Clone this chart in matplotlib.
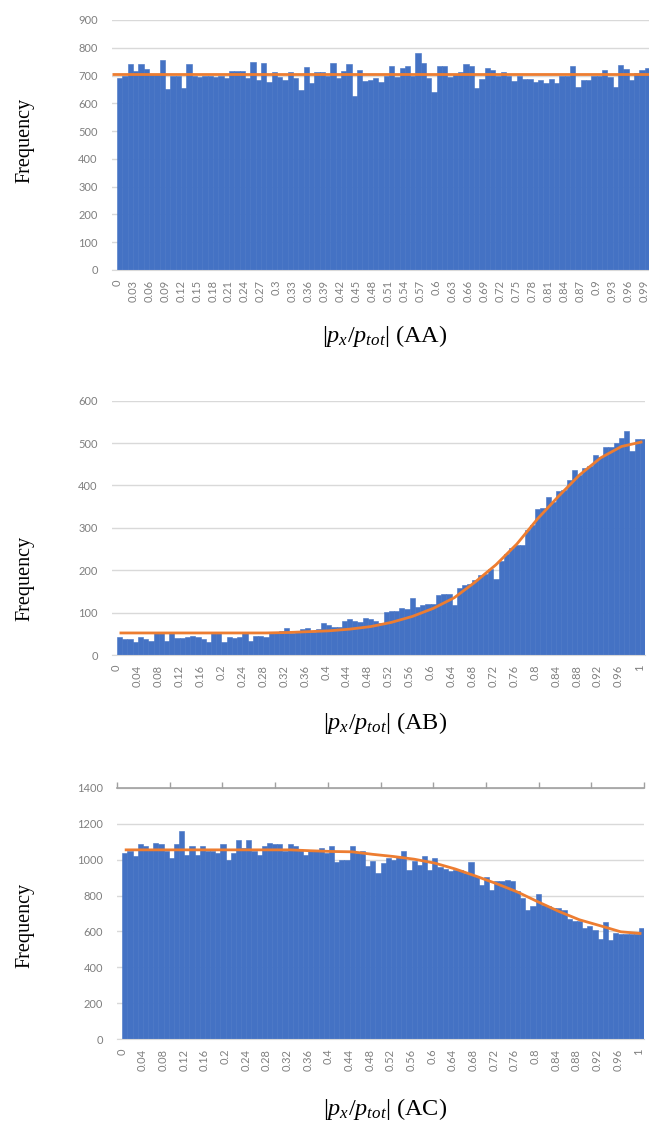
import numpy as np
import matplotlib
matplotlib.use("Agg")
import matplotlib.pyplot as plt
import matplotlib.transforms as mtransforms

plt.rcParams["mathtext.fontset"] = "custom"
plt.rcParams["mathtext.rm"] = "Liberation Serif"
plt.rcParams["mathtext.it"] = "Liberation Serif:italic"

W, H = 649, 1122

# --- data ------------------------------------------------------------------
# AA: 100 bins, 0 .. 0.99
aa_bins = np.arange(100) / 100
aa_counts = [
    690, 700, 740, 715, 740, 725, 705, 705, 755, 650,
    697, 700, 655, 740, 700, 695, 700, 700, 695, 700,
    690, 718, 718, 718, 690, 750, 685, 745, 678, 713,
    695, 685, 713, 690, 648, 730, 672, 713, 713, 700,
    745, 690, 718, 740, 628, 720, 680, 683, 693, 678,
    700, 733, 696, 726, 735, 700, 780, 744, 690, 640,
    736, 736, 696, 705, 712, 740, 733, 654, 686, 726,
    720, 698, 712, 700, 680, 698, 688, 686, 678, 683,
    672, 686, 672, 700, 700, 733, 660, 683, 683, 698,
    698, 720, 696, 660, 738, 723, 683, 708, 720, 726,
]
aa_fit_x = [-0.015, 0.995]
aa_fit_y = [705, 705]
aa_ticks = ["0", "0.03", "0.06", "0.09", "0.12", "0.15", "0.18", "0.21", "0.24",
            "0.27", "0.3", "0.33", "0.36", "0.39", "0.42", "0.45", "0.48", "0.51",
            "0.54", "0.57", "0.6", "0.63", "0.66", "0.69", "0.72", "0.75", "0.78",
            "0.81", "0.84", "0.87", "0.9", "0.93", "0.96", "0.99"]

# AB: 101 bins, 0 .. 1
ab_bins = np.arange(101) / 100
ab_counts = [
    42, 38, 38, 31, 42, 38, 34, 51, 51, 34,
    51, 39, 39, 43, 46, 42, 37, 31, 51, 51,
    31, 42, 39, 43, 51, 34, 45, 45, 42, 51,
    51, 57, 64, 51, 55, 61, 64, 55, 62, 75,
    71, 65, 67, 81, 84, 81, 78, 88, 86, 80,
    76, 102, 104, 104, 110, 108, 135, 113, 118, 120,
    120, 142, 144, 144, 117, 158, 164, 168, 176, 188,
    190, 204, 180, 222, 238, 252, 259, 259, 295, 307,
    345, 346, 373, 362, 386, 390, 413, 437, 425, 441,
    447, 471, 466, 490, 490, 500, 512, 529, 482, 510,
    510,
]
ab_fit_x = [0, 0.04, 0.08, 0.12, 0.16, 0.2, 0.24, 0.28, 0.32, 0.36, 0.4, 0.44, 0.48,
            0.52, 0.56, 0.6, 0.64, 0.68, 0.72, 0.76, 0.8, 0.84, 0.88, 0.92, 0.96, 1.0]
ab_fit_y = [52, 52, 52, 52, 52, 52, 52, 52, 53, 55, 57, 61, 67,
            77, 91, 110, 135, 172, 213, 262, 322, 375, 425, 465, 492, 503]

# AC: 101 bins, 0 .. 1
ac_bins = np.arange(101) / 100
ac_counts = [
    1035, 1050, 1023, 1087, 1074, 1055, 1096, 1087, 1046, 1012,
    1087, 1160, 1027, 1078, 1027, 1074, 1050, 1050, 1040, 1087,
    1000, 1036, 1110, 1065, 1110, 1050, 1027, 1074, 1096, 1087,
    1087, 1050, 1087, 1074, 1055, 1027, 1050, 1046, 1065, 1036,
    1074, 986, 1000, 1000, 1075, 1040, 1046, 963, 994, 926,
    981, 1009, 1000, 1013, 1050, 944, 994, 972, 1018, 944,
    1009, 957, 948, 935, 944, 944, 926, 987, 907, 857,
    902, 833, 880, 880, 889, 883, 824, 787, 722, 741,
    809, 750, 741, 731, 728, 722, 667, 657, 657, 620,
    630, 606, 556, 652, 550, 593, 587, 587, 583, 585,
    617,
]
ac_fit_x = ab_fit_x
ac_fit_y = [1055, 1055, 1055, 1055, 1055, 1055, 1055, 1055, 1055, 1050, 1046, 1044, 1030,
            1018, 1003, 981, 948, 908, 866, 820, 765, 712, 665, 632, 598, 588]

ab_ticks = ["0", "0.04", "0.08", "0.12", "0.16", "0.2", "0.24", "0.28", "0.32",
            "0.36", "0.4", "0.44", "0.48", "0.52", "0.56", "0.6", "0.64", "0.68",
            "0.72", "0.76", "0.8", "0.84", "0.88", "0.92", "0.96", "1"]

BLUE = "#4472C4"
ORANGE = "#ED7D31"
GRID = "#D9D9D9"
TXT = "#7F7F7F"


def px_axes(fig, left, right, top, bottom):
    return fig.add_axes([left / W, 1 - bottom / H, (right - left) / W, (bottom - top) / H])


def style(ax, bins, counts, ticks, ymax, ystep, fit_x, fit_y, xmax):
    ax.bar(bins, counts, width=0.01, color=BLUE, edgecolor=BLUE, linewidth=0.4, zorder=2)
    ax.plot(fit_x, fit_y, color=ORANGE, linewidth=2.0, zorder=3, solid_capstyle="butt")
    ax.set_xlim(-0.015, xmax)
    ax.set_ylim(0, ymax)
    ax.set_yticks(np.arange(0, ymax + 1, ystep))
    ax.set_xticks([float(t) for t in ticks])
    ax.set_xticklabels(ticks, rotation=90)
    ax.yaxis.grid(True, color=GRID, linewidth=1.0, zorder=0)
    ax.set_axisbelow(True)
    for s in ["left", "right", "top"]:
        ax.spines[s].set_visible(False)
    ax.spines["bottom"].set_color(GRID)
    ax.tick_params(axis="both", length=0, colors=TXT, labelsize=8)
    ax.tick_params(axis="y", pad=10)
    ax.tick_params(axis="x", pad=7)
    # excel puts the rotated labels a little left of the bar centre
    shift = mtransforms.ScaledTranslation(-3 / 100, 0, fig.dpi_scale_trans)
    for lab in ax.get_xticklabels():
        lab.set_family("Lato")
        lab.set_transform(lab.get_transform() + shift)
    for lab in ax.get_yticklabels():
        lab.set_family("Lato")


fig = plt.figure(figsize=(W / 100, H / 100), dpi=100)

ax1 = px_axes(fig, 111.7, 650, 20, 270)
style(ax1, aa_bins, aa_counts, aa_ticks, 900, 100, aa_fit_x, aa_fit_y, 0.995)

ax2 = px_axes(fig, 111.7, 645, 400.7, 655)
style(ax2, ab_bins, ab_counts, ab_ticks, 600, 100, ab_fit_x, ab_fit_y, 1.005)

ax3 = px_axes(fig, 117, 644, 788, 1039)
style(ax3, ac_bins, ac_counts, ab_ticks, 1400, 200, ac_fit_x, ac_fit_y, 1.005)

# panel 3 has a secondary axis line along the top
top = ax3.twiny()
top.set_xlim(0, 1)
top.set_xticks([0, 0.1, 0.2, 0.3, 0.4, 0.5, 0.6, 0.7, 0.8, 0.9, 1.0])
top.tick_params(axis="x", direction="out", length=4, width=1, color="#A0A0A0", labeltop=False)
for s in ["left", "right", "bottom"]:
    top.spines[s].set_visible(False)
top.spines["top"].set_color("#A0A0A0")
top.spines["top"].set_linewidth(1.2)

serif = "Liberation Serif"
for yc in [140, 578, 925]:
    fig.text(25 / W, 1 - yc / H, "Frequency", rotation=90, ha="center", va="center",
             fontsize=14.5, family=serif)
for yc, tag in [(336, "AA"), (723, "AB"), (1109, "AC")]:
    fig.text(385 / W, 1 - yc / H, r"$|p_x/p_{tot}|$ (" + tag + ")", ha="center",
             va="center", fontsize=17.5, family=serif)

fig.savefig("out.png", dpi=100)
